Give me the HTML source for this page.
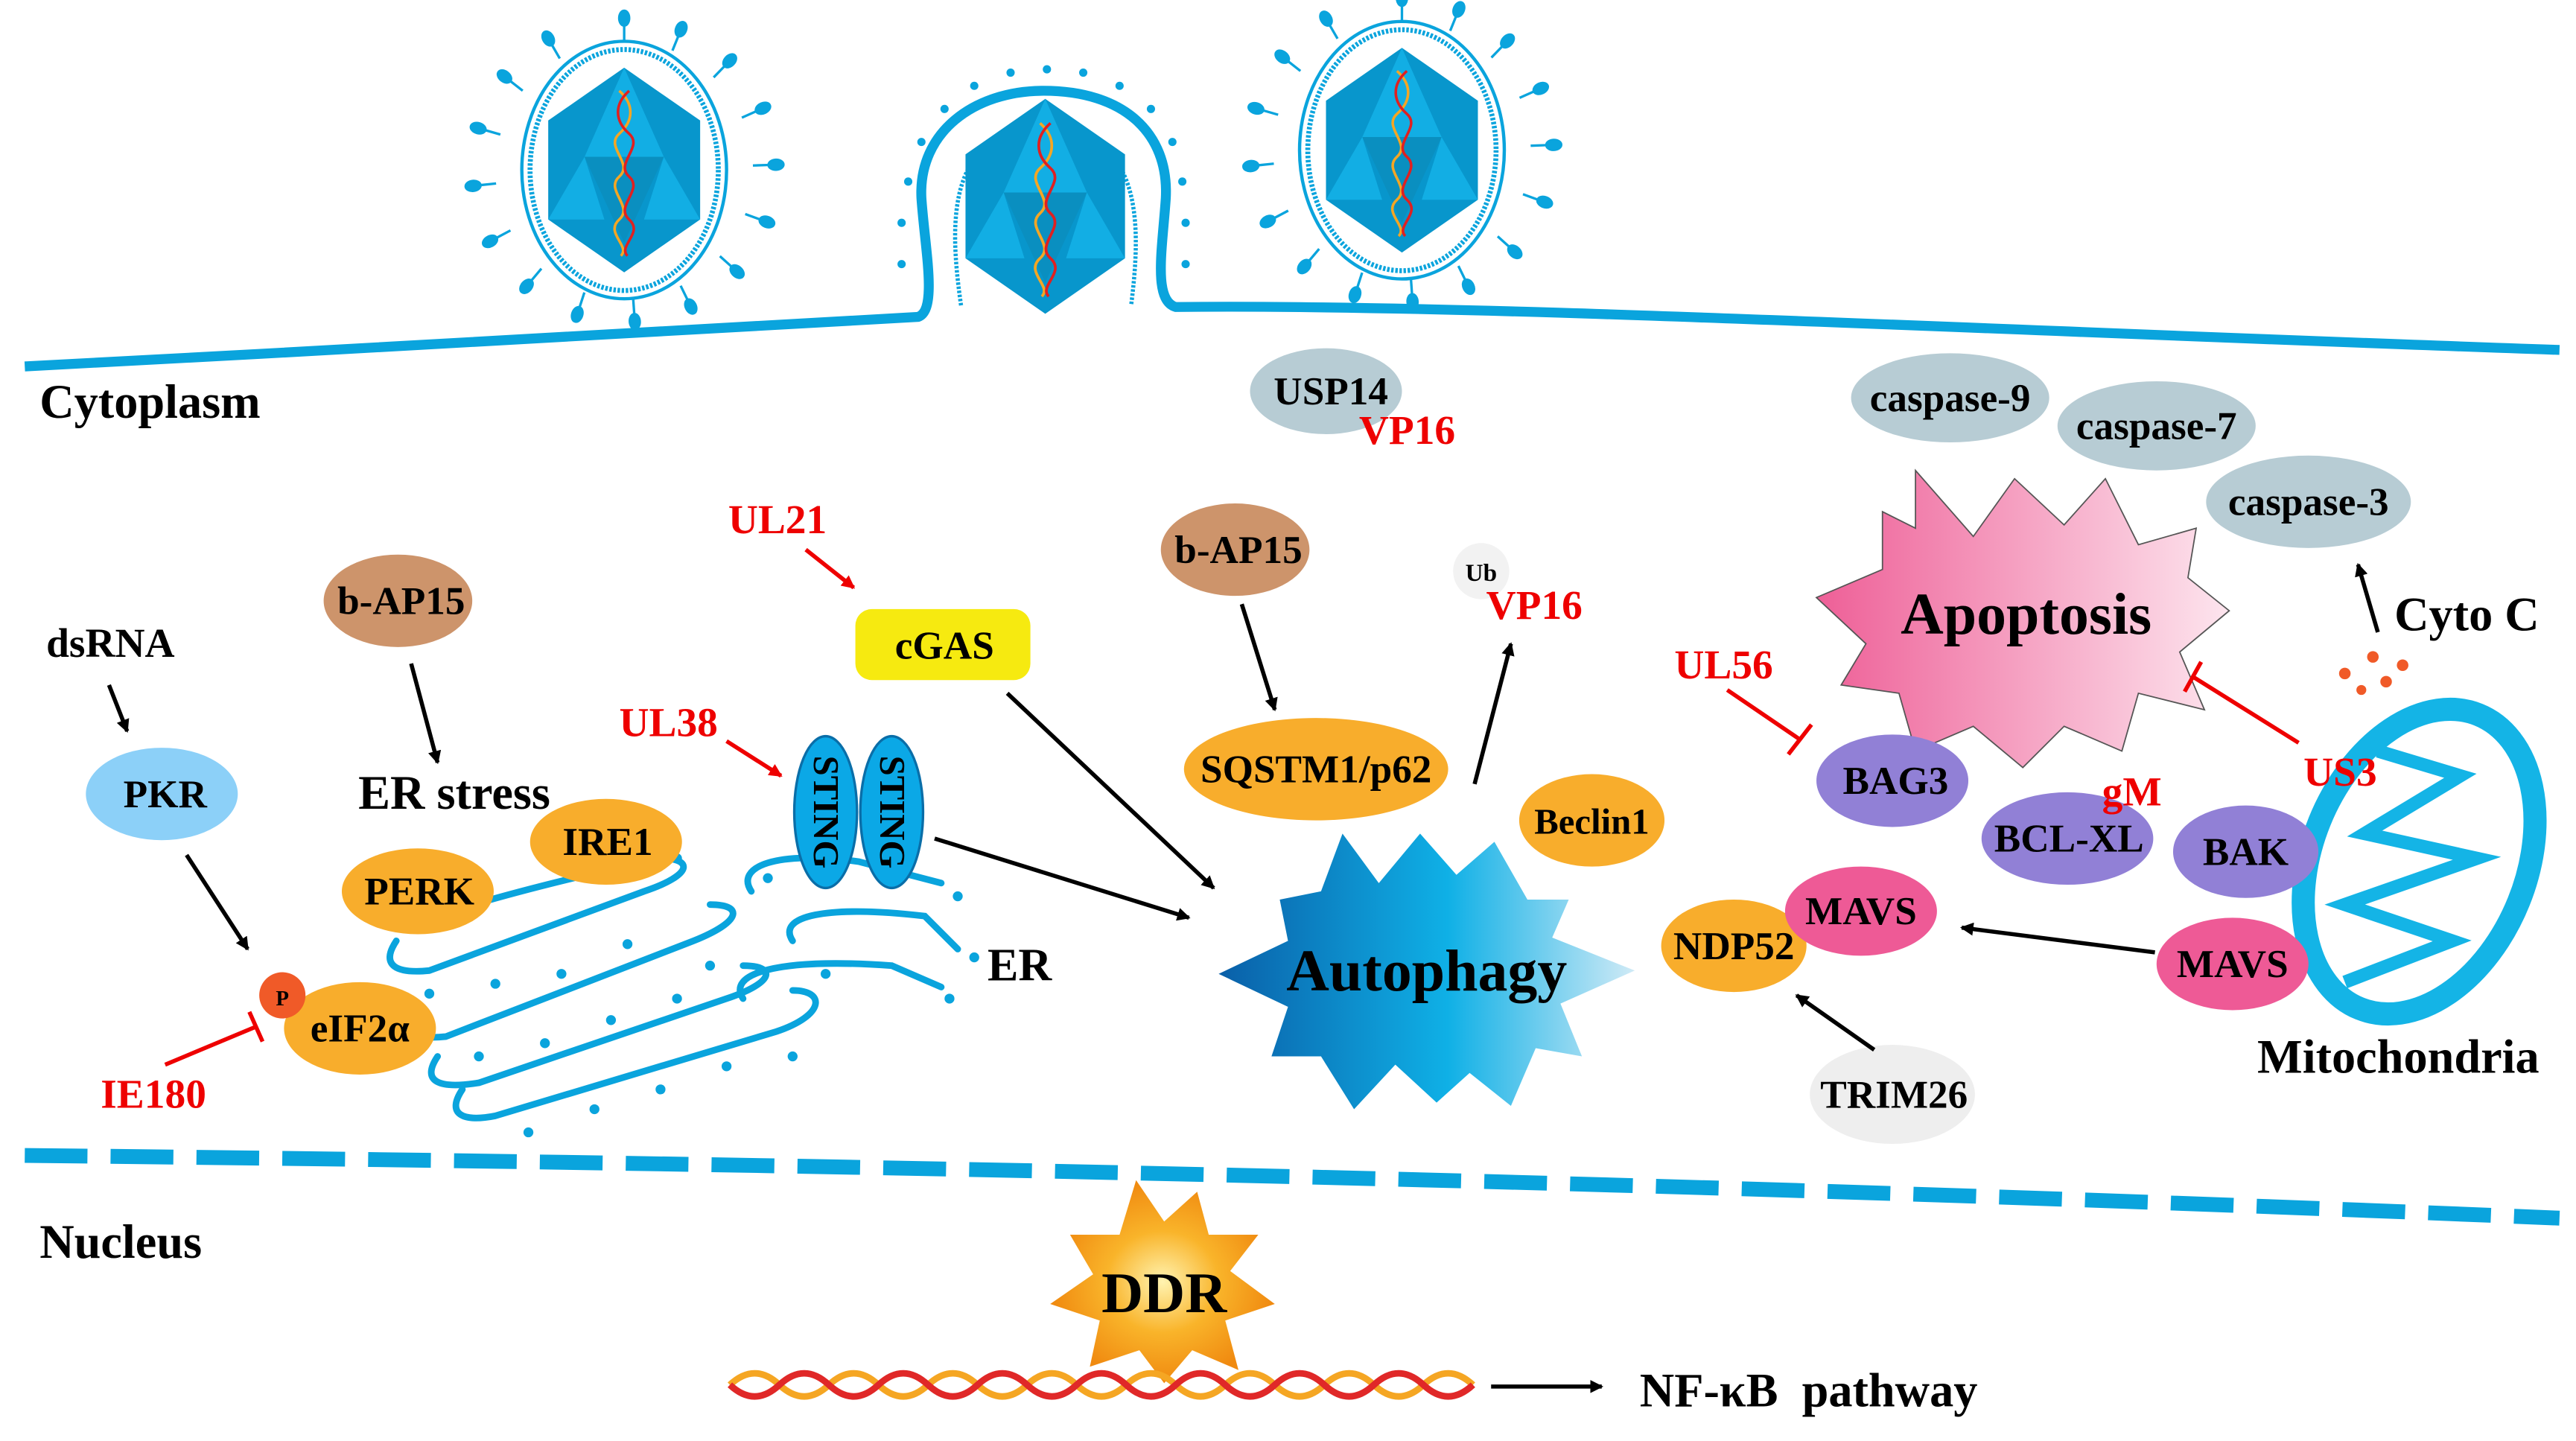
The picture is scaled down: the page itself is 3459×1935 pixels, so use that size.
<!DOCTYPE html>
<html><head><meta charset="utf-8"><style>
html,body{margin:0;padding:0;background:#fff}
svg{display:block}
text{font-family:"Liberation Serif",serif;font-weight:bold}
</style></head><body>
<svg width="3459" height="1935" viewBox="0 0 1560 873" preserveAspectRatio="none" xmlns="http://www.w3.org/2000/svg">
<defs>
<linearGradient id="aut" x1="0" x2="1" y1="0" y2="0"><stop offset="0" stop-color="#0a5fa8"/><stop offset="0.55" stop-color="#0fb0e6"/><stop offset="1" stop-color="#cfeaf6"/></linearGradient>
<linearGradient id="apo" x1="0" x2="1" y1="0" y2="0"><stop offset="0" stop-color="#ee5f97"/><stop offset="1" stop-color="#fde5ee"/></linearGradient>
<radialGradient id="ddr"><stop offset="0" stop-color="#fff3b0"/><stop offset="0.5" stop-color="#f9b42a"/><stop offset="1" stop-color="#f08a10"/></radialGradient>
<marker id="ab" markerWidth="8" markerHeight="8" refX="7" refY="4" orient="auto" markerUnits="userSpaceOnUse"><path d="M0,0 L8,4 L0,8 Z" fill="#000"/></marker>
<marker id="ar" markerWidth="8" markerHeight="8" refX="7" refY="4" orient="auto" markerUnits="userSpaceOnUse"><path d="M0,0 L8,4 L0,8 Z" fill="#e00"/></marker>
<g id="caps">
<polygon points="0,-62 46,-30 46,30 0,62 -46,30 -46,-30" fill="#0896cc"/>
<polygon points="0,-62 24,-8 -24,-8" fill="#12aee4"/>
<polygon points="-24,-8 24,-8 0,44" fill="#0a8fc0"/>
<polygon points="-46,30 -24,-8 -12,30" fill="#12aee4"/>
<polygon points="46,30 24,-8 12,30" fill="#12aee4"/>
<path d="M-3,-48 C6,-40 6,-30 -3,-22 C-12,-14 6,-4 -3,4 C-12,12 6,22 -3,30 C-12,38 4,46 -2,52" stroke="#f5a623" stroke-width="1.6" fill="none"/>
<path d="M3,-48 C-6,-40 -6,-30 3,-22 C12,-14 -6,-4 3,4 C12,12 -6,22 3,30 C12,38 -4,46 2,52" stroke="#e02020" stroke-width="1.6" fill="none"/>
</g>
<g id="virus">
<ellipse cx="0" cy="0" rx="62" ry="78" fill="none" stroke="#0aa4dd" stroke-width="2"/>
<ellipse cx="0" cy="0" rx="57" ry="73" fill="none" stroke="#0aa4dd" stroke-width="3" stroke-dasharray="1.5 1"/>
<use href="#caps"/>
</g>
<g id="spk" stroke="#0aa4dd" stroke-width="1.5" fill="#0aa4dd">
<line x1="0" y1="-78" x2="0" y2="-88"/><ellipse cx="0" cy="-92" rx="3" ry="4.5"/>
</g>
<g id="vfull">
<use href="#virus"/>
<use href="#spk"/><use href="#spk" transform="scale(1,1) rotate(22)"/><use href="#spk" transform="rotate(44)"/><use href="#spk" transform="rotate(66)"/><use href="#spk" transform="rotate(88)"/><use href="#spk" transform="rotate(110)"/><use href="#spk" transform="rotate(132)"/><use href="#spk" transform="rotate(154)"/><use href="#spk" transform="rotate(176)"/><use href="#spk" transform="rotate(198)"/><use href="#spk" transform="rotate(220)"/><use href="#spk" transform="rotate(242)"/><use href="#spk" transform="rotate(264)"/><use href="#spk" transform="rotate(286)"/><use href="#spk" transform="rotate(308)"/><use href="#spk" transform="rotate(330)"/>
</g>
</defs>
<rect width="1560" height="873" fill="#fff"/>

<use href="#vfull" transform="translate(378,103)"/>
<use href="#vfull" transform="translate(849,91)"/>

<!-- membrane -->
<path d="M15,222 C200,212 400,202 556,192 C568,188 560,150 558,120 C556,80 590,55 632,55 C680,55 708,80 706,120 C704,150 698,182 712,186 C900,184 1200,200 1550,212" fill="none" stroke="#0aa4dd" stroke-width="6"/>
<path d="M582,185 C574,130 575,80 632,76 C690,80 692,130 685,185" fill="none" stroke="#0aa4dd" stroke-width="2.5" stroke-dasharray="1.5 1"/>
<use href="#caps" transform="translate(633,125) scale(1.05,1.05)"/>
<g fill="#0aa4dd">
<circle cx="546" cy="160" r="2.5"/><circle cx="546" cy="135" r="2.5"/><circle cx="550" cy="110" r="2.5"/><circle cx="558" cy="86" r="2.5"/><circle cx="572" cy="66" r="2.5"/><circle cx="590" cy="52" r="2.5"/><circle cx="612" cy="44" r="2.5"/><circle cx="634" cy="42" r="2.5"/><circle cx="656" cy="44" r="2.5"/><circle cx="678" cy="52" r="2.5"/><circle cx="697" cy="66" r="2.5"/><circle cx="710" cy="86" r="2.5"/><circle cx="716" cy="110" r="2.5"/><circle cx="718" cy="135" r="2.5"/><circle cx="718" cy="160" r="2.5"/>
</g>

<!-- nucleus dashed line -->
<path d="M15,700 C500,705 1000,715 1550,738" fill="none" stroke="#0aa4dd" stroke-width="9" stroke-dasharray="38 14"/>

<!-- labels -->
<g font-size="29" fill="#000">
<text x="24" y="253">Cytoplasm</text>
<text x="24" y="762">Nucleus</text>
<text x="1367" y="650">Mitochondria</text>
<text x="1450" y="382">Cyto C</text>
<text x="217" y="490">ER stress</text>
<text x="598" y="594" font-size="28">ER</text>
<text x="993" y="852" font-size="29" xml:space="preserve">NF-κB  pathway</text>
<text x="28" y="398" font-size="25">dsRNA</text>
</g>

<!-- ER -->
<g fill="none" stroke="#0aa4dd" stroke-width="4" stroke-linecap="round">
<path d="M240,570 C230,585 240,590 260,588 L390,540 C420,530 420,520 400,520 Q330,535 280,550"/>
<path d="M250,610 C240,625 250,630 270,628 L420,570 C450,558 450,548 430,548"/>
<path d="M265,640 C255,655 265,660 290,656 L440,605 C470,595 470,585 450,585"/>
<path d="M280,660 C270,675 280,680 300,676 L470,625 C500,615 500,600 480,600"/>
<path d="M455,540 C445,525 470,515 520,522 L570,535"/>
<path d="M480,570 C470,555 500,548 560,555 L580,575"/>
<path d="M450,605 C440,590 470,580 540,585 L570,598"/>
</g>
<g fill="#0aa4dd">
<circle cx="260" cy="602" r="3"/><circle cx="300" cy="596" r="3"/><circle cx="340" cy="590" r="3"/><circle cx="380" cy="572" r="3"/><circle cx="290" cy="640" r="3"/><circle cx="330" cy="632" r="3"/><circle cx="370" cy="618" r="3"/><circle cx="410" cy="605" r="3"/><circle cx="320" cy="686" r="3"/><circle cx="360" cy="672" r="3"/><circle cx="400" cy="660" r="3"/><circle cx="440" cy="646" r="3"/><circle cx="480" cy="640" r="3"/><circle cx="410" cy="520" r="3"/><circle cx="465" cy="532" r="3"/><circle cx="495" cy="528" r="3"/><circle cx="580" cy="543" r="3"/><circle cx="590" cy="580" r="3"/><circle cx="575" cy="605" r="3"/><circle cx="430" cy="585" r="3"/><circle cx="500" cy="590" r="3"/>
</g>

<!-- mitochondria -->
<ellipse cx="1465" cy="522" rx="65" ry="96" transform="rotate(22 1465 522)" fill="#fff" stroke="#14b4e6" stroke-width="14"/>
<path d="M1440,455 L1490,470 L1432,505 L1500,520 L1420,548 L1485,570 L1420,595" fill="none" stroke="#14b4e6" stroke-width="8" stroke-linejoin="miter"/>
<g fill="#f05a28"><circle cx="1420" cy="408" r="3.5"/><circle cx="1437" cy="398" r="3.5"/><circle cx="1445" cy="413" r="3.5"/><circle cx="1455" cy="403" r="3.5"/><circle cx="1430" cy="418" r="3"/></g>

<!-- stars -->
<polygon points="813,505 835,535 860,505 882,530 905,510 925,545 950,545 940,568 990,588 945,608 958,640 930,635 915,670 890,650 870,668 845,645 820,672 800,640 770,640 780,610 738,590 780,570 775,545 800,540" fill="url(#aut)"/>
<polygon points="1160,285 1195,325 1220,290 1250,318 1275,290 1295,330 1330,320 1325,350 1350,370 1320,395 1335,430 1295,420 1285,455 1250,440 1225,465 1195,440 1160,455 1150,420 1115,415 1130,390 1100,362 1140,345 1140,310 1160,320" fill="url(#apo)" stroke="#555" stroke-width="0.8"/>
<polygon points="688,715 705,740 725,722 732,748 762,748 745,770 772,790 742,800 750,830 722,818 705,838 690,818 660,828 666,800 636,790 662,772 648,748 678,748" fill="url(#ddr)"/>

<!-- DNA -->
<path d="M442,839 q15,-14 30,0 t30,0 t30,0 t30,0 t30,0 t30,0 t30,0 t30,0 t30,0 t30,0 t30,0 t30,0 t30,0 t30,0 t30,0" fill="none" stroke="#f5a623" stroke-width="4"/>
<path d="M442,839 q15,14 30,0 t30,0 t30,0 t30,0 t30,0 t30,0 t30,0 t30,0 t30,0 t30,0 t30,0 t30,0 t30,0 t30,0 t30,0" fill="none" stroke="#e02828" stroke-width="4"/>

<!-- ovals -->
<g font-size="24" text-anchor="middle">
<ellipse cx="803" cy="237" rx="46" ry="26" fill="#b7ccd4"/><text x="806" y="245">USP14</text>
<ellipse cx="1181" cy="241" rx="60" ry="27" fill="#b7ccd4"/><text x="1181" y="249">caspase-9</text>
<ellipse cx="1306" cy="258" rx="60" ry="27" fill="#b7ccd4"/><text x="1306" y="266">caspase-7</text>
<ellipse cx="1398" cy="304" rx="62" ry="28" fill="#b7ccd4"/><text x="1398" y="312">caspase-3</text>
<ellipse cx="241" cy="364" rx="45" ry="28" fill="#cd946b"/><text x="243" y="372">b-AP15</text>
<ellipse cx="748" cy="333" rx="45" ry="28" fill="#cd946b"/><text x="750" y="341">b-AP15</text>
<ellipse cx="98" cy="481" rx="46" ry="28" fill="#8cd0f8"/><text x="100" y="489">PKR</text>
<ellipse cx="253" cy="540" rx="46" ry="26" fill="#f8ad2c"/><text x="254" y="548">PERK</text>
<ellipse cx="367" cy="510" rx="46" ry="26" fill="#f8ad2c"/><text x="368" y="518">IRE1</text>
<ellipse cx="218" cy="623" rx="46" ry="28" fill="#f8ad2c"/><text x="218" y="631">eIF2α</text>
<circle cx="171" cy="603" r="14" fill="#f05a28"/><text x="171" y="609" font-size="13">P</text>
<rect x="518" y="369" width="106" height="43" rx="10" fill="#f6ea10"/><text x="572" y="399">cGAS</text>
<ellipse cx="797" cy="466" rx="80" ry="31" fill="#f8ad2c"/><text x="797" y="474">SQSTM1/p62</text>
<ellipse cx="964" cy="497" rx="44" ry="28" fill="#f8ad2c"/><text x="964" y="505" font-size="22">Beclin1</text>
<circle cx="897" cy="346" r="17" fill="#f2f2f2"/><text x="897" y="352" font-size="15">Ub</text>
<ellipse cx="1146" cy="473" rx="46" ry="28" fill="#9180d6"/><text x="1148" y="481">BAG3</text>
<ellipse cx="1252" cy="508" rx="52" ry="28" fill="#9180d6"/><text x="1253" y="516">BCL-XL</text>
<ellipse cx="1360" cy="516" rx="44" ry="28" fill="#9180d6"/><text x="1360" y="524">BAK</text>
<ellipse cx="1050" cy="573" rx="44" ry="28" fill="#f8ad2c"/><text x="1050" y="581">NDP52</text>
<ellipse cx="1127" cy="552" rx="46" ry="27" fill="#ee5a96"/><text x="1127" y="560">MAVS</text>
<ellipse cx="1352" cy="584" rx="46" ry="28" fill="#ee5a96"/><text x="1352" y="592">MAVS</text>
<ellipse cx="1146" cy="663" rx="50" ry="30" fill="#eeeeee"/><text x="1147" y="671">TRIM26</text>
</g>
<!-- STING -->
<ellipse cx="500" cy="492" rx="19" ry="46" fill="#0ba8e6" stroke="#0a6ea8" stroke-width="1.5"/>
<ellipse cx="540" cy="492" rx="19" ry="46" fill="#0ba8e6" stroke="#0a6ea8" stroke-width="1.5"/>
<text transform="translate(493,492) rotate(90)" font-size="22" text-anchor="middle">STING</text>
<text transform="translate(533,492) rotate(90)" font-size="22" text-anchor="middle">STING</text>

<!-- big labels -->
<text x="864" y="600" font-size="36" text-anchor="middle">Autophagy</text>
<text x="1227" y="384" font-size="36" text-anchor="middle">Apoptosis</text>
<text x="705" y="795" font-size="35" text-anchor="middle">DDR</text>

<!-- red labels -->
<g fill="#e00" font-size="25">
<text x="441" y="323">UL21</text>
<text x="375" y="446">UL38</text>
<text x="1014" y="411">UL56</text>
<text x="1395" y="476">US3</text>
<text x="1273" y="488">gM</text>
<text x="61" y="671">IE180</text>
<text x="823" y="269">VP16</text>
<text x="900" y="375">VP16</text>
</g>

<!-- arrows -->
<g stroke="#000" stroke-width="2.5" fill="none" marker-end="url(#ab)">
<line x1="66" y1="415" x2="77" y2="443"/>
<line x1="113" y1="518" x2="150" y2="575"/>
<line x1="249" y1="402" x2="265" y2="462"/>
<line x1="610" y1="420" x2="735" y2="538"/>
<line x1="566" y1="508" x2="720" y2="556"/>
<line x1="752" y1="366" x2="772" y2="430"/>
<line x1="893" y1="475" x2="915" y2="390"/>
<line x1="1305" y1="577" x2="1188" y2="562"/>
<line x1="1135" y1="636" x2="1088" y2="603"/>
<line x1="1440" y1="383" x2="1428" y2="342"/>
<line x1="903" y1="840" x2="970" y2="840"/>
</g>
<g stroke="#e00" stroke-width="2.5" fill="none">
<line x1="488" y1="333" x2="517" y2="356" marker-end="url(#ar)"/>
<line x1="440" y1="449" x2="473" y2="470" marker-end="url(#ar)"/>
<line x1="100" y1="645" x2="155" y2="622"/><line x1="151" y1="613" x2="159" y2="631"/>
<line x1="1046" y1="418" x2="1090" y2="448"/><line x1="1083" y1="457" x2="1097" y2="439"/>
<line x1="1392" y1="450" x2="1328" y2="410"/><line x1="1323" y1="419" x2="1333" y2="401"/>
</g>
</svg>
</body></html>
